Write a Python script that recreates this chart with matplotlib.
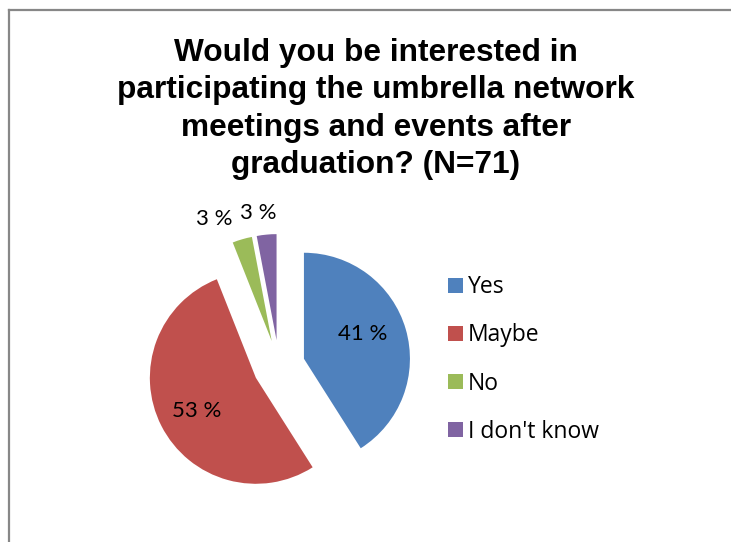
import matplotlib
matplotlib.use('Agg')
import numpy as np
import matplotlib.pyplot as plt
from matplotlib.lines import Line2D

W, H = 731, 542

title = 'Would you be interested in\nparticipating the umbrella network\nmeetings and events after\ngraduation? (N=71)'
answers = ['Yes', 'Maybe', 'No', "I don't know"]
shares = [41, 53, 3, 3]
colors = ['#4F81BD', '#C0504D', '#9BBB59', '#8064A2']

# label placement per slice: distance (in radii) and angular nudge (deg)
lab_dist = [0.60, 0.64, 1.27, 1.21]
lab_nudge = [7, 2, 9, 3]

R = 106
fig = plt.figure(figsize=(W / 100, H / 100), dpi=100)
ax = fig.add_axes([0, 0, 1, 1])

# explode is in data units here since the radius is given in pixels
wedges, _ = ax.pie(shares, colors=colors, startangle=90, counterclock=False,
                   radius=R, center=(279, H - 366),
                   explode=[0.245 * R] * len(shares),
                   wedgeprops=dict(linewidth=0))

# pie() resets the limits, so fix the pixel-sized data space afterwards
ax.set_xlim(0, W)
ax.set_ylim(0, H)
ax.set_aspect('equal')
ax.axis('off')

# chart frame (only left and top edges fall inside the image)
ax.add_line(Line2D([9, 9], [0, H - 10], color='#878787', lw=1.6))
ax.add_line(Line2D([9, W], [H - 10, H - 10], color='#878787', lw=1.6))

fig.text(376 / W, 1 - 109 / H, title, ha='center', va='center',
         fontsize=22.8, fontweight='bold', family='Liberation Sans',
         linespacing=1.31)

for w, v, d, n in zip(wedges, shares, lab_dist, lab_nudge):
    mid = np.deg2rad((w.theta1 + w.theta2) / 2 + n)
    cx, cy = w.center
    ax.text(cx + d * w.r * np.cos(mid), cy + d * w.r * np.sin(mid), f'{v} %',
            ha='center', va='center', fontsize=16, family='Lato')

ax.legend(wedges, answers, loc='center left',
          bbox_to_anchor=(448 / W, 1 - 359.5 / H), bbox_transform=fig.transFigure,
          frameon=False, prop=dict(family='Open Sans', size=16.5),
          handlelength=0.65, handleheight=0.65, handletextpad=0.22,
          labelspacing=1.055, borderpad=0, borderaxespad=0)

fig.savefig('out.png', dpi=100)
